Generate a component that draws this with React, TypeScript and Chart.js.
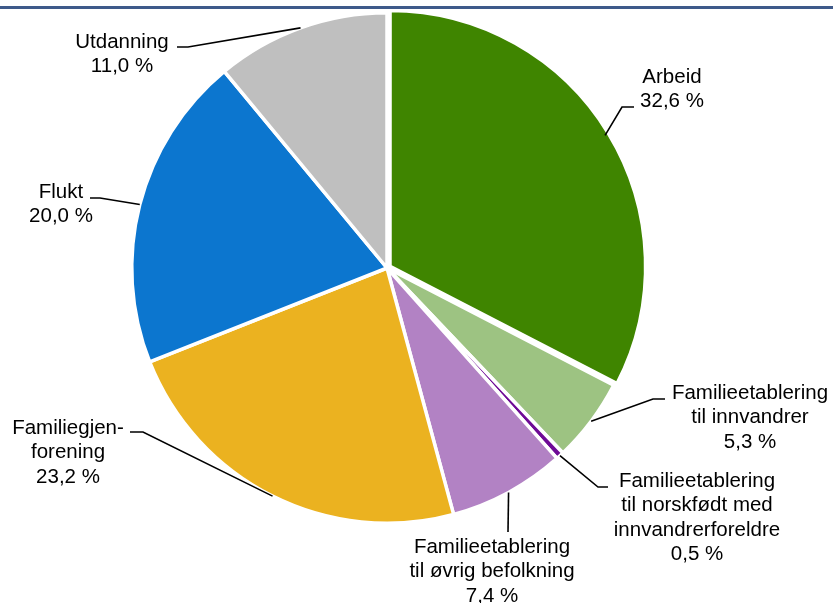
import React, { useEffect, useRef } from "react";
import { Chart, registerables } from "chart.js";

Chart.register(...registerables);

const categories: string[] = [
  "Arbeid",
  "Familieetablering til innvandrer",
  "Familieetablering til norskfødt med innvandrerforeldre",
  "Familieetablering til øvrig befolkning",
  "Familiegjenforening",
  "Flukt",
  "Utdanning",
];

const labelLines: string[][] = [
  ["Arbeid"],
  ["Familieetablering", "til innvandrer"],
  ["Familieetablering", "til norskfødt med", "innvandrerforeldre"],
  ["Familieetablering", "til øvrig befolkning"],
  ["Familiegjen-", "forening"],
  ["Flukt"],
  ["Utdanning"],
];

const shares: number[] = [32.6, 5.3, 0.5, 7.4, 23.2, 20.0, 11.0];

const colors: string[] = [
  "#3f8500",
  "#9dc382",
  "#6e0a96",
  "#b282c4",
  "#ebb220",
  "#0c76cf",
  "#bfbfbf",
];

// label placement (text centre x, first baseline y) and leader bend points
const labelLayout = [
  { cx: 672, by: 83, leader: [[622, 107], [634, 107]] },
  { cx: 750, by: 399, leader: [[653, 399], [665, 399]] },
  { cx: 697, by: 487, leader: [[598, 487], [608, 487]] },
  { cx: 492, by: 553, leader: [[508, 532]] },
  { cx: 68, by: 434, leader: [[143, 432], [130, 432]] },
  { cx: 61, by: 198, leader: [[100, 198], [90, 198]] },
  { cx: 122, by: 48, leader: [[188, 47], [177, 47]] },
];

const fmt = (v: number) => v.toFixed(1).replace(".", ",") + " %";

const labelPlugin = {
  id: "pieLabels",
  afterDraw(chart: any) {
    const ctx = chart.ctx as CanvasRenderingContext2D;
    ctx.save();
    // top rule
    ctx.fillStyle = "#3e5a8a";
    ctx.fillRect(0, 6, chart.width, 3);

    const meta = chart.getDatasetMeta(0);
    meta.data.forEach((arc: any, i: number) => {
      const p = arc.getProps(["x", "y", "startAngle", "endAngle", "outerRadius"], true);
      const mid = (p.startAngle + p.endAngle) / 2;
      const ax = p.x + Math.cos(mid) * p.outerRadius;
      const ay = p.y + Math.sin(mid) * p.outerRadius;
      const lay = labelLayout[i];
      ctx.strokeStyle = "#000";
      ctx.lineWidth = 1.6;
      ctx.beginPath();
      ctx.moveTo(ax, ay);
      lay.leader.forEach(([lx, ly]) => ctx.lineTo(lx, ly));
      ctx.stroke();

      ctx.fillStyle = "#000";
      ctx.font = '20.5px "Liberation Sans", Arial, sans-serif';
      ctx.textAlign = "center";
      ctx.textBaseline = "alphabetic";
      const lines = [...labelLines[i], fmt(shares[i])];
      lines.forEach((t, k) => ctx.fillText(t, lay.cx, lay.by + k * 24.3));
    });
    ctx.restore();
  },
};

export default function App() {
  const ref = useRef<HTMLCanvasElement | null>(null);
  useEffect(() => {
    if (!ref.current) return;
    const chart = new Chart(ref.current, {
      type: "pie",
      data: {
        labels: categories,
        datasets: [
          {
            data: shares,
            backgroundColor: colors,
            borderColor: "#ffffff",
            borderWidth: 3.5,
            offset: [14, 0, 0, 0, 0, 0, 0],
          },
        ],
      },
      options: {
        responsive: false,
        animation: false,
        layout: { padding: { left: 123, top: 4, right: 182, bottom: 71 } },
        plugins: {
          legend: { display: false },
          tooltip: { enabled: false },
        },
      },
      plugins: [labelPlugin],
    });
    return () => chart.destroy();
  }, []);
  return (
    <div style={{ position: "absolute", left: 0, top: 0, width: 833, height: 603, background: "#fff" }}>
      <canvas ref={ref} width={833} height={603} />
    </div>
  );
}
